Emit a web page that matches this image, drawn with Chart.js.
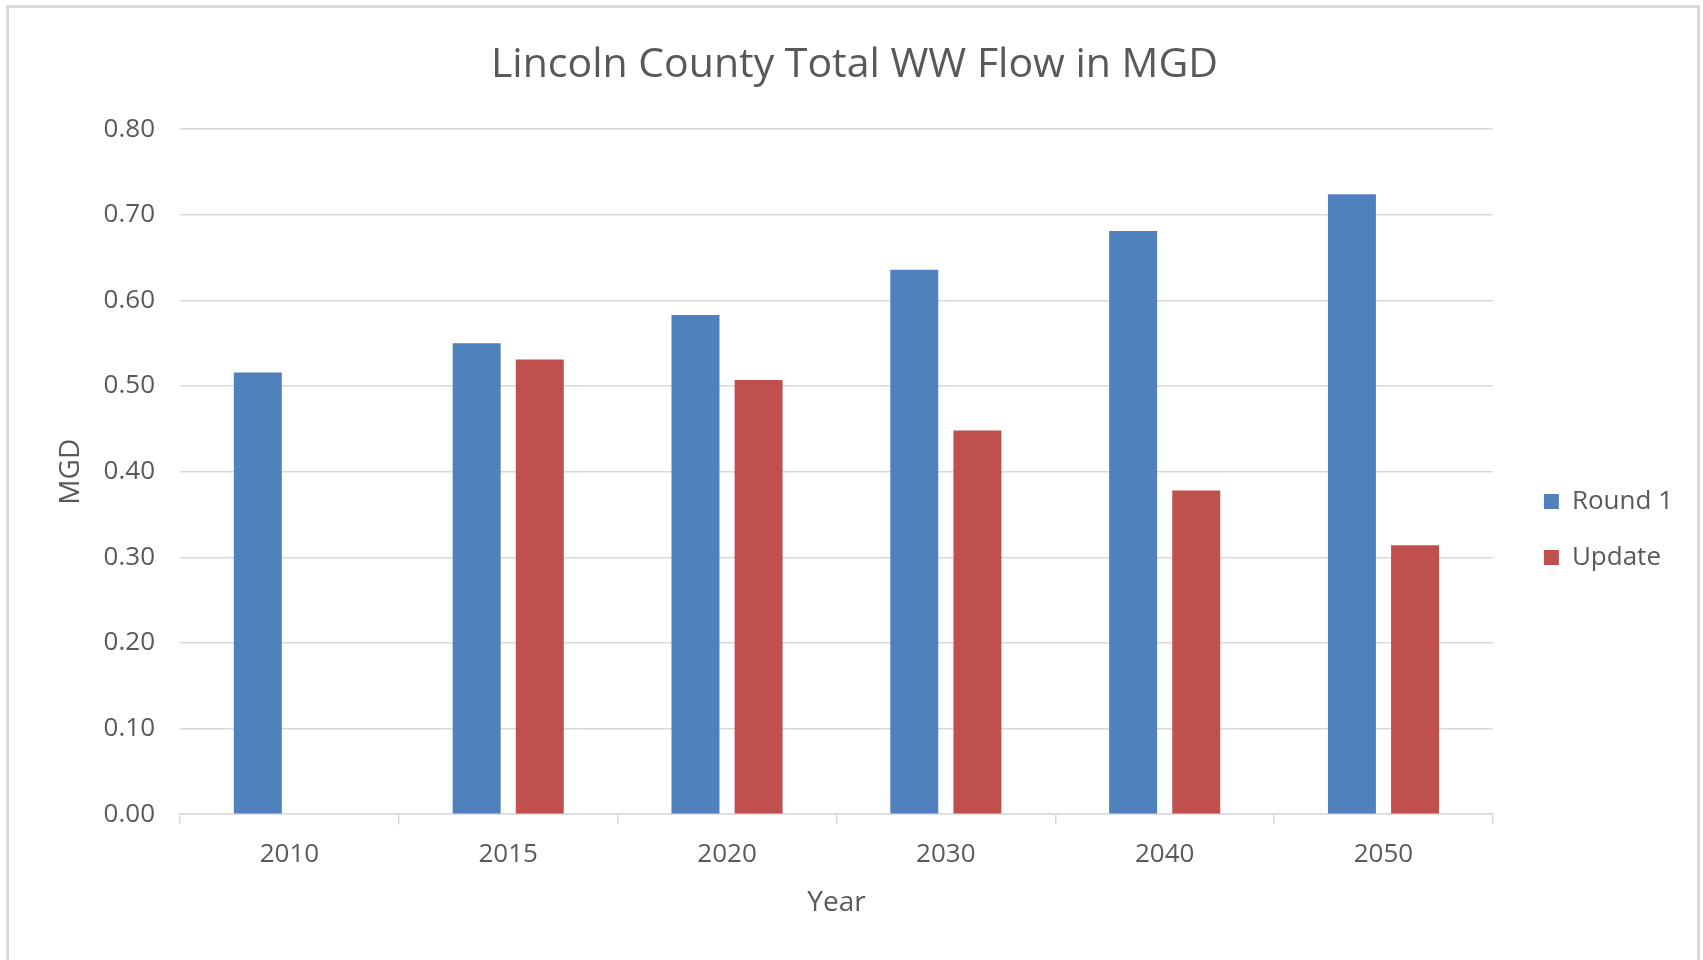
<!DOCTYPE html>
<html>
<head>
<meta charset="utf-8">
<script src="https://cdn.jsdelivr.net/npm/chart.js@4/dist/chart.umd.min.js"></script>
<style>
  html, body { margin: 0; padding: 0; background: #fff; overflow: hidden; }
  #frame {
    position: absolute; left: 6px; top: 5px; width: 1694px; height: 990px;
    border: 3px solid #d9d9d9; border-bottom: none; box-sizing: border-box; background: #fff;
  }
  #wrap { position: absolute; left: 9px; top: 8px; width: 1691px; height: 952px; }
</style>
</head>
<body>
<div id="frame"></div>
<div id="wrap"><canvas id="flowChart"></canvas></div>
<script>
// values
var years = ["2010", "2015", "2020", "2030", "2040", "2050"];
var round1 = [0.516, 0.550, 0.583, 0.636, 0.681, 0.724];
var update = [null, 0.531, 0.507, 0.448, 0.378, 0.314];
var yTicks = [0, 0.1, 0.2, 0.3, 0.4, 0.5, 0.6, 0.7, 0.8];

var textColor = "#595959";
var gridColor = "#d9d9d9";
var fontFamily = "'Open Sans', 'Noto Sans', sans-serif";

Chart.defaults.font.family = fontFamily;
Chart.defaults.color = textColor;

var barData = {
    labels: years,
    datasets: [
        {
            label: "Round 1",
            backgroundColor: "#4f81bd",
            borderWidth: 0,
            data: round1
        }, {
            label: "Update",
            backgroundColor: "#c0504d",
            borderWidth: 0,
            data: update
        }
    ]
};

var barOptions = {
    responsive: true,
    maintainAspectRatio: false,
    animation: false,
    categoryPercentage: 0.577,
    barPercentage: 0.76,
    layout: { padding: { top: 0, right: 17, bottom: 40, left: 17 } },
    plugins: {
        title: {
            display: true,
            text: "Lincoln County Total WW Flow in MGD",
            color: textColor,
            font: { size: 41, weight: "normal" },
            padding: { top: 33, bottom: 39 }
        },
        legend: {
            position: "right",
            // empty title only pushes the legend items down
            title: { display: true, text: "", font: { size: 10 }, padding: { top: 119, bottom: 0 } },
            labels: {
                boxWidth: 15,
                boxHeight: 15,
                padding: 30,
                color: textColor,
                font: { size: 26 }
            }
        },
        tooltip: { enabled: false }
    },
    scales: {
        x: {
            grid: { drawOnChartArea: false, color: gridColor, tickLength: 10, lineWidth: 1.5 },
            border: { color: gridColor, width: 1.5 },
            ticks: { color: textColor, font: { size: 26 }, padding: 15 },
            title: { display: true, text: "Year", color: textColor, font: { size: 28 }, padding: { top: 1, bottom: 0 } }
        },
        y: {
            min: 0,
            max: 0.8,
            afterFit: function (scale) { scale.width = 154; },
            afterBuildTicks: function (scale) {
                scale.ticks = yTicks.map(function (v) { return { value: v }; });
            },
            grid: { color: gridColor, lineWidth: 1.5, drawTicks: false },
            border: { display: false },
            ticks: {
                color: textColor,
                font: { size: 26 },
                padding: 25,
                callback: function (v) { return Number(v).toFixed(2); }
            },
            title: { display: true, text: "MGD", color: textColor, font: { size: 28 }, padding: { top: 28, bottom: 0 } }
        },
        yR: {
            position: "right",
            display: true,
            afterFit: function (scale) { scale.width = 21; },
            grid: { display: false },
            border: { display: false },
            ticks: { display: false }
        }
    }
};

var ctx = document.getElementById("flowChart").getContext("2d");
new Chart(ctx, { type: "bar", data: barData, options: barOptions });
</script>
</body>
</html>
